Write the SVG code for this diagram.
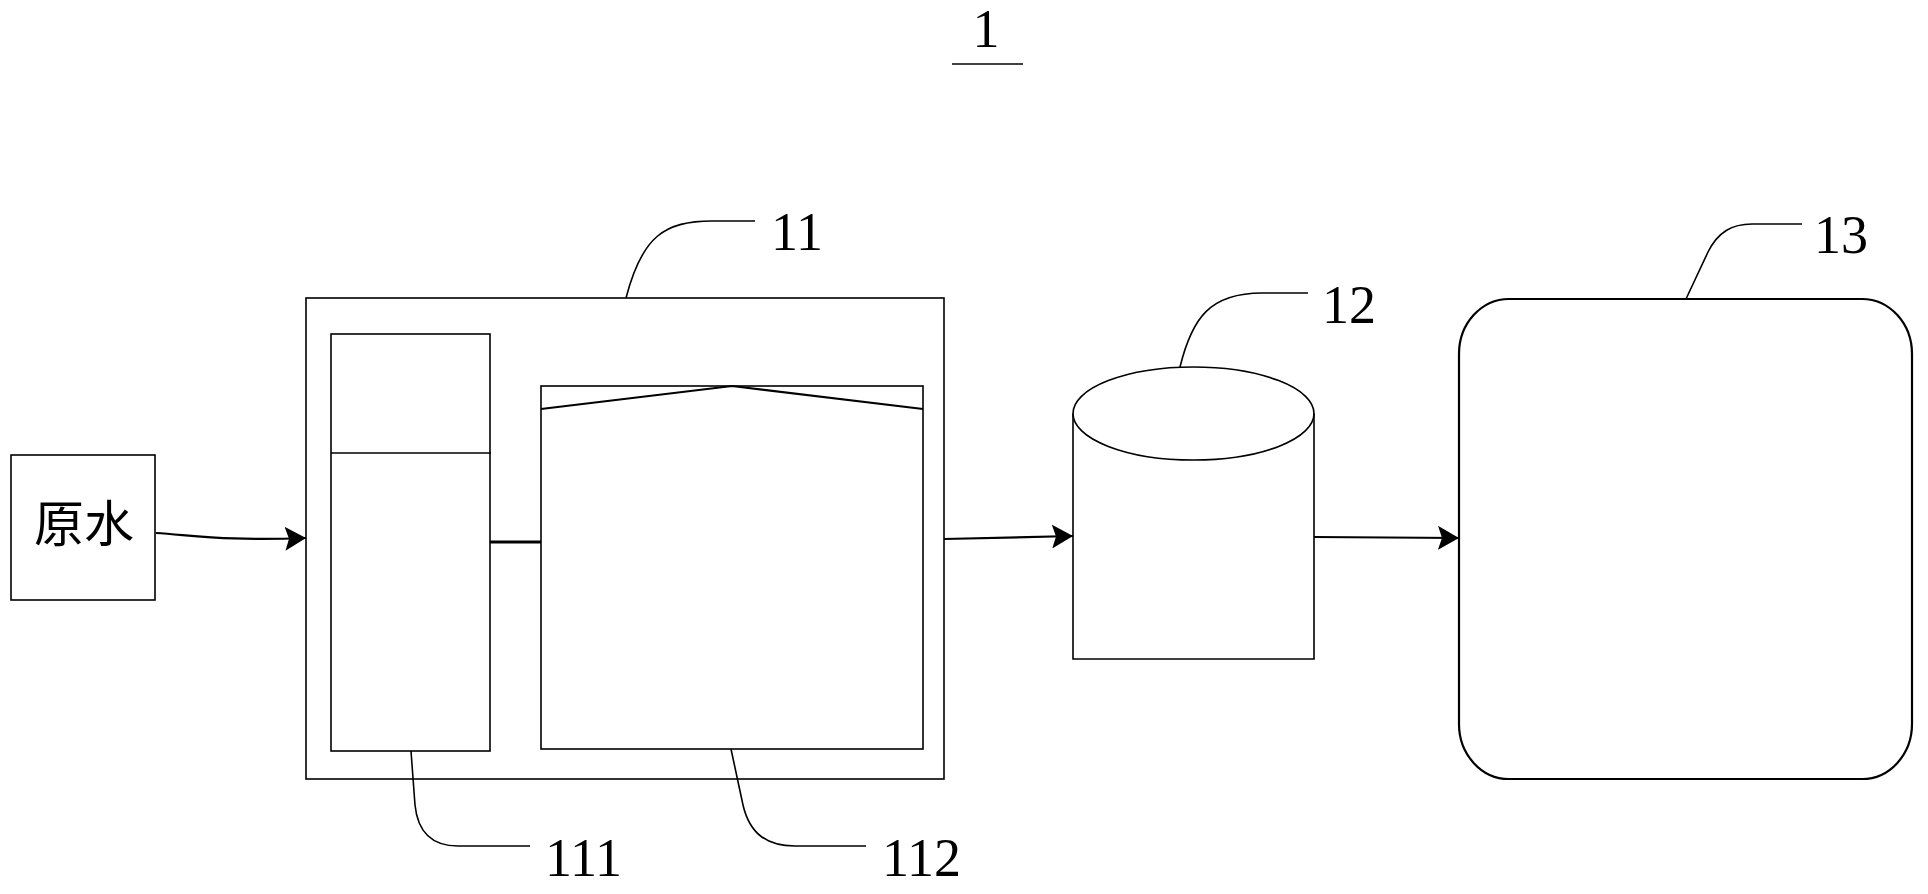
<svg xmlns="http://www.w3.org/2000/svg" width="1928" height="894" viewBox="0 0 1928 894">
<style>
.s{fill:none;stroke:#000;stroke-width:1.6}
.c{fill:none;stroke:#000;stroke-width:2.2}
.n{font-family:"Liberation Serif","Times New Roman",serif;font-size:54px;fill:#000}
.cj{font-family:"Noto Sans CJK SC","Noto Sans CJK JP",sans-serif;font-size:50px;fill:#000}
</style>
<defs>
<marker id="ah" markerWidth="22" markerHeight="24" refX="21" refY="12" orient="auto" markerUnits="userSpaceOnUse">
<path d="M0,0 L21,12 L0,24 L4,12 Z" fill="#000"/>
</marker>
</defs>
<rect width="1928" height="894" fill="#fff"/>
<g id="title">
<text class="n" x="986" y="47" text-anchor="middle">1</text>
<line class="s" x1="952" y1="64" x2="1023" y2="64"/>
</g>
<g id="raw-water">
<rect class="s" x="11" y="455" width="144" height="145"/>
<text class="cj" x="84" y="542" text-anchor="middle">原水</text>
</g>
<g id="node-11">
<rect class="s" x="306" y="298" width="638" height="481"/>
<path class="s" d="M626,298 C642,236 665,221 712,221 L755,221"/>
<text class="n" x="771" y="250">11</text>
</g>
<g id="node-111">
<rect class="s" x="331" y="334" width="159" height="417"/>
<line class="s" x1="331" y1="453" x2="491" y2="453"/>
<path class="s" d="M411,751 L415,805 C418,835 435,846 458,846 L530,846"/>
<text class="n" x="545" y="876">111</text>
</g>
<g id="node-112">
<rect class="s" x="541" y="386" width="382" height="363"/>
<polyline class="c" points="541,409 732,386 923,409"/>
<path class="s" d="M731,749 L743,805 C750,835 768,846 795,846 L866,846"/>
<text class="n" x="882" y="876">112</text>
</g>
<g id="node-12">
<path class="s" d="M1073,413.5 L1073,659 L1314,659 L1314,413.5"/>
<ellipse class="s" cx="1193.5" cy="413.5" rx="120.5" ry="46.5" fill="#fff"/>
<path class="s" d="M1180,367 C1192,318 1210,293 1262,293 L1308,293"/>
<text class="n" x="1322" y="323">12</text>
</g>
<g id="node-13">
<rect class="s" x="1459" y="299" width="453" height="480" rx="50" ry="55" style="stroke-width:2.2"/>
<path class="s" d="M1686,299 L1708,252 C1718,232 1732,224 1752,224 L1802,224"/>
<text class="n" x="1814" y="253">13</text>
</g>
<g id="connectors">
<path class="c" d="M156,533 C200,536 230,541 306,538" marker-end="url(#ah)"/>
<line x1="490" y1="542" x2="541" y2="542" stroke="#000" stroke-width="3"/>
<path class="c" d="M944,539 L1073,536" marker-end="url(#ah)"/>
<path class="c" d="M1314,537 L1459,538" marker-end="url(#ah)"/>
</g>
</svg>
